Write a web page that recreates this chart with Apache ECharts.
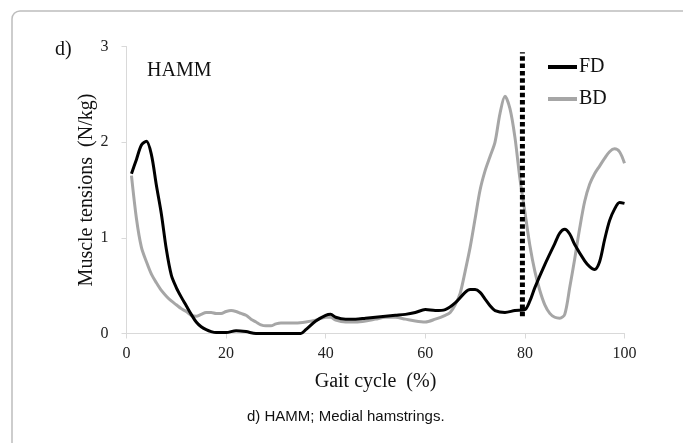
<!DOCTYPE html>
<html>
<head>
<meta charset="utf-8">
<script src="https://cdn.jsdelivr.net/npm/echarts@6/dist/echarts.min.js"></script>
<style>html,body{margin:0;padding:0;background:#fff}#c{width:683px;height:443px}</style>
</head>
<body>
<div id="c"></div>
<script>
// Gait cycle (%) positions and muscle tension values (N/kg)
const fdX = [1,2,3,4,5,6,7,8,9,10,11,12,13,14,15,16,17,18,20,22,24,26,28,30,32,34,35,36,38,40,41,42,44,46,48,50,52,54,56,58,60,62,64,66,68,69,70,71,72,73,74,76,78,80,81,82,84,86,87,88,89,90,92,93,94,95,96,97,98,99,100];
const fdY = [1.67,1.82,1.97,2.01,1.87,1.55,1.25,0.88,0.61,0.48,0.38,0.29,0.20,0.12,0.07,0.04,0.02,0.01,0.01,0.03,0.02,0.0,0.0,0.0,0.0,0.0,0.0,0.04,0.13,0.19,0.20,0.17,0.15,0.15,0.16,0.17,0.18,0.19,0.20,0.22,0.25,0.24,0.25,0.32,0.43,0.46,0.46,0.43,0.36,0.29,0.24,0.22,0.24,0.25,0.34,0.48,0.72,0.94,1.05,1.09,1.04,0.93,0.76,0.70,0.67,0.75,0.98,1.18,1.30,1.37,1.36];
const bdX = [1,2,3,4,5,6,7,8,9,10,11,12,13,14,15,16,17,18,19,20,21,22,23,24,25,26,27,28,29,30,31,32,34,36,38,40,41,42,44,46,48,50,52,54,56,58,60,62,64,65,66,67,68,69,70,71,72,73,74,75,76,77,78,79,80,81,82,83,84,85,86,87,88,89,90,91,92,93,94,95,96,97,98,99,100];
const bdY = [1.65,1.20,0.90,0.75,0.62,0.53,0.45,0.39,0.34,0.30,0.26,0.23,0.19,0.18,0.20,0.22,0.22,0.21,0.21,0.23,0.24,0.23,0.21,0.19,0.15,0.12,0.09,0.08,0.08,0.10,0.11,0.11,0.11,0.12,0.14,0.17,0.17,0.14,0.12,0.12,0.13,0.15,0.17,0.17,0.15,0.13,0.12,0.15,0.19,0.22,0.30,0.42,0.65,0.90,1.20,1.50,1.70,1.85,2.00,2.30,2.48,2.35,2.05,1.62,1.27,0.92,0.65,0.45,0.30,0.21,0.17,0.16,0.20,0.48,0.78,1.10,1.38,1.56,1.67,1.75,1.83,1.90,1.93,1.90,1.78];
const toeOffX = [79.5, 79.5];
const toeOffY = [0.18, 2.94];
const xTicks = [0,20,40,60,80,100];
const yTicks = [0,1,2,3];
const seriesNames = ['FD','BD'];

const pairs = (xs, ys) => xs.map((x, i) => [x, ys[i]]);
const serif = 'Liberation Serif';

const chart = echarts.init(document.getElementById('c'), null, {renderer: 'canvas'});
chart.setOption({
  animation: false,
  backgroundColor: '#fff',
  grid: {left: 126.5, right: 58.5, top: 46.5, bottom: 109.5, containLabel: false},
  legend: {
    data: seriesNames,
    orient: 'vertical',
    left: 543, top: 52,
    icon: 'rect', itemWidth: 29, itemHeight: 4, itemGap: 12,
    textStyle: {fontFamily: serif, fontSize: 20, color: '#111', padding: [0,0,0,-3]}
  },
  xAxis: {
    type: 'value', min: 0, max: 100, interval: 20,
    name: 'Gait cycle  (%)', nameLocation: 'middle', nameGap: 38,
    nameTextStyle: {fontFamily: serif, fontSize: 20, color: '#111'},
    axisLine: {show: true, onZero: false, lineStyle: {color: '#d9d9d9', width: 1}},
    axisTick: {show: true, length: 5, lineStyle: {color: '#d9d9d9'}},
    axisLabel: {fontFamily: serif, fontSize: 16, color: '#222', margin: 12,
      formatter: v => xTicks.includes(v) ? String(v) : ''},
    splitLine: {show: false}
  },
  yAxis: {
    type: 'value', min: 0, max: 3, interval: 1,
    name: 'Muscle tensions  (N/kg)', nameLocation: 'middle', nameGap: 30,
    nameMoveOverlap: false,
    nameTextStyle: {fontFamily: serif, fontSize: 20, color: '#111'},
    axisLine: {show: true, lineStyle: {color: '#d9d9d9', width: 1}},
    axisTick: {show: true, length: 5, lineStyle: {color: '#d9d9d9'}},
    axisLabel: {fontFamily: serif, fontSize: 16, color: '#222', margin: 18,
      formatter: v => yTicks.includes(v) ? String(v) : ''},
    splitLine: {show: false}
  },
  series: [
    {name: 'FD', type: 'line', data: pairs(fdX, fdY), smooth: 0.3, symbol: 'none',
      lineStyle: {color: '#000', width: 3}, itemStyle: {color: '#000'}, z: 3},
    {name: 'BD', type: 'line', data: pairs(bdX, bdY), smooth: 0.3, symbol: 'none',
      lineStyle: {color: '#a6a6a6', width: 3}, itemStyle: {color: '#a6a6a6'}, z: 2},
    {name: 'toe-off', type: 'line', data: pairs(toeOffX, toeOffY), symbol: 'none', silent: true,
      lineStyle: {color: '#000', width: 5, type: [4.5, 2.8], cap: 'butt'}, z: 4}
  ],
  graphic: [
    {type: 'rect', shape: {x: 12, y: 11, width: 720, height: 480, r: 8},
      style: {fill: 'none', stroke: '#bdbdbd', lineWidth: 1.5}, silent: true},
    {type: 'text', left: 55, top: 40, style: {text: 'd)', font: '20px "Liberation Serif"', fill: '#111'}},
    {type: 'text', left: 147, top: 61, style: {text: 'HAMM', font: '20px "Liberation Serif"', fill: '#111'}},
    {type: 'text', left: 247, top: 409, style: {text: 'd) HAMM; Medial hamstrings.', font: '15px "Liberation Sans"', fill: '#111'}}
  ]
});
</script>
</body>
</html>
